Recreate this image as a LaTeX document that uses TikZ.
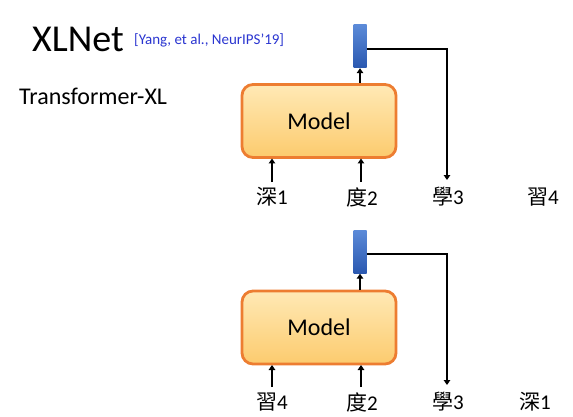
\documentclass[tikz,border=0pt]{standalone}
\usepackage{fontspec}
\setmainfont{Carlito}
\newfontfamily\cjk{Noto Sans CJK TC}
\usetikzlibrary{arrows.meta}
\definecolor{boxborder}{HTML}{ED7D31}
\definecolor{boxtop}{HTML}{FFE9B5}
\definecolor{boxbot}{HTML}{FCCB6E}
\definecolor{bartop}{HTML}{5B8AD8}
\definecolor{barbot}{HTML}{2A58B0}
\definecolor{citeblue}{HTML}{2A35D0}
\tikzset{
  modelbox/.style={draw=boxborder, line width=2.8pt, rounded corners=11pt,
    top color=boxtop, bottom color=boxbot, minimum width=154pt, minimum height=73pt,
    inner sep=0pt, font=\fontsize{24}{26}\selectfont},
  vecbar/.style={top color=bartop, bottom color=barbot, minimum width=13pt,
    minimum height=43pt, inner sep=0pt},
  tok/.style={font=\fontsize{21}{23}\selectfont, inner sep=1pt},
  arr/.style={line width=1.8pt, -{Triangle[length=5pt,width=6.5pt]}},
  wire/.style={line width=1.8pt},
}
\begin{document}
\begin{tikzpicture}[x=1pt,y=-1pt]
\useasboundingbox (0,0) rectangle (573,417);
% titles
\node[anchor=base west, inner sep=0pt, font=\fontsize{38}{40}\selectfont] (title) at (32,52) {XLNet};
\node[anchor=base west, inner sep=0pt, text=citeblue, font=\fontsize{15}{17}\selectfont] (cite) at (134,45) {[Yang, et al., NeurIPS’19]};
\node[anchor=base west, inner sep=0pt, font=\fontsize{24}{26}\selectfont] (txl) at (19,105) {Transformer-XL};

% top block
\node[modelbox] (m1) at (319,121) {Model};
\node[vecbar] (v1) at (360,46.5) {};
\node[tok] (a1) at (272,197) {{\cjk 深}1};
\node[tok] (b1) at (362,197) {{\cjk 度}2};
\node[tok] (c1) at (448,197) {{\cjk 學}3};
\node[tok] (d1) at (543,197) {{\cjk 習}4};
\coordinate (t1) at (447,180);
\draw[arr] (272,182) -- (272,158.5);
\draw[arr] (361,182) -- (361,158.5);
\draw[arr] (360,83) -- (v1.south);
\draw[wire] (v1.east |- 0,49) -- (447,49) -- (447,175);
\draw[arr] (447,170) -- (t1);

% bottom block
\node[modelbox] (m2) at (319,327.5) {Model};
\node[vecbar] (v2) at (360,252) {};
\node[tok] (a2) at (272,402) {{\cjk 習}4};
\node[tok] (b2) at (362,402) {{\cjk 度}2};
\node[tok] (c2) at (448,402) {{\cjk 學}3};
\node[tok] (d2) at (535,402) {{\cjk 深}1};
\coordinate (t2) at (447,385);
\draw[arr] (272,387) -- (272,365);
\draw[arr] (361,387) -- (361,365);
\draw[arr] (360,290) -- (v2.south);
\draw[wire] (v2.east |- 0,254) -- (447,254) -- (447,380);
\draw[arr] (447,375) -- (t2);
\end{tikzpicture}
\end{document}
